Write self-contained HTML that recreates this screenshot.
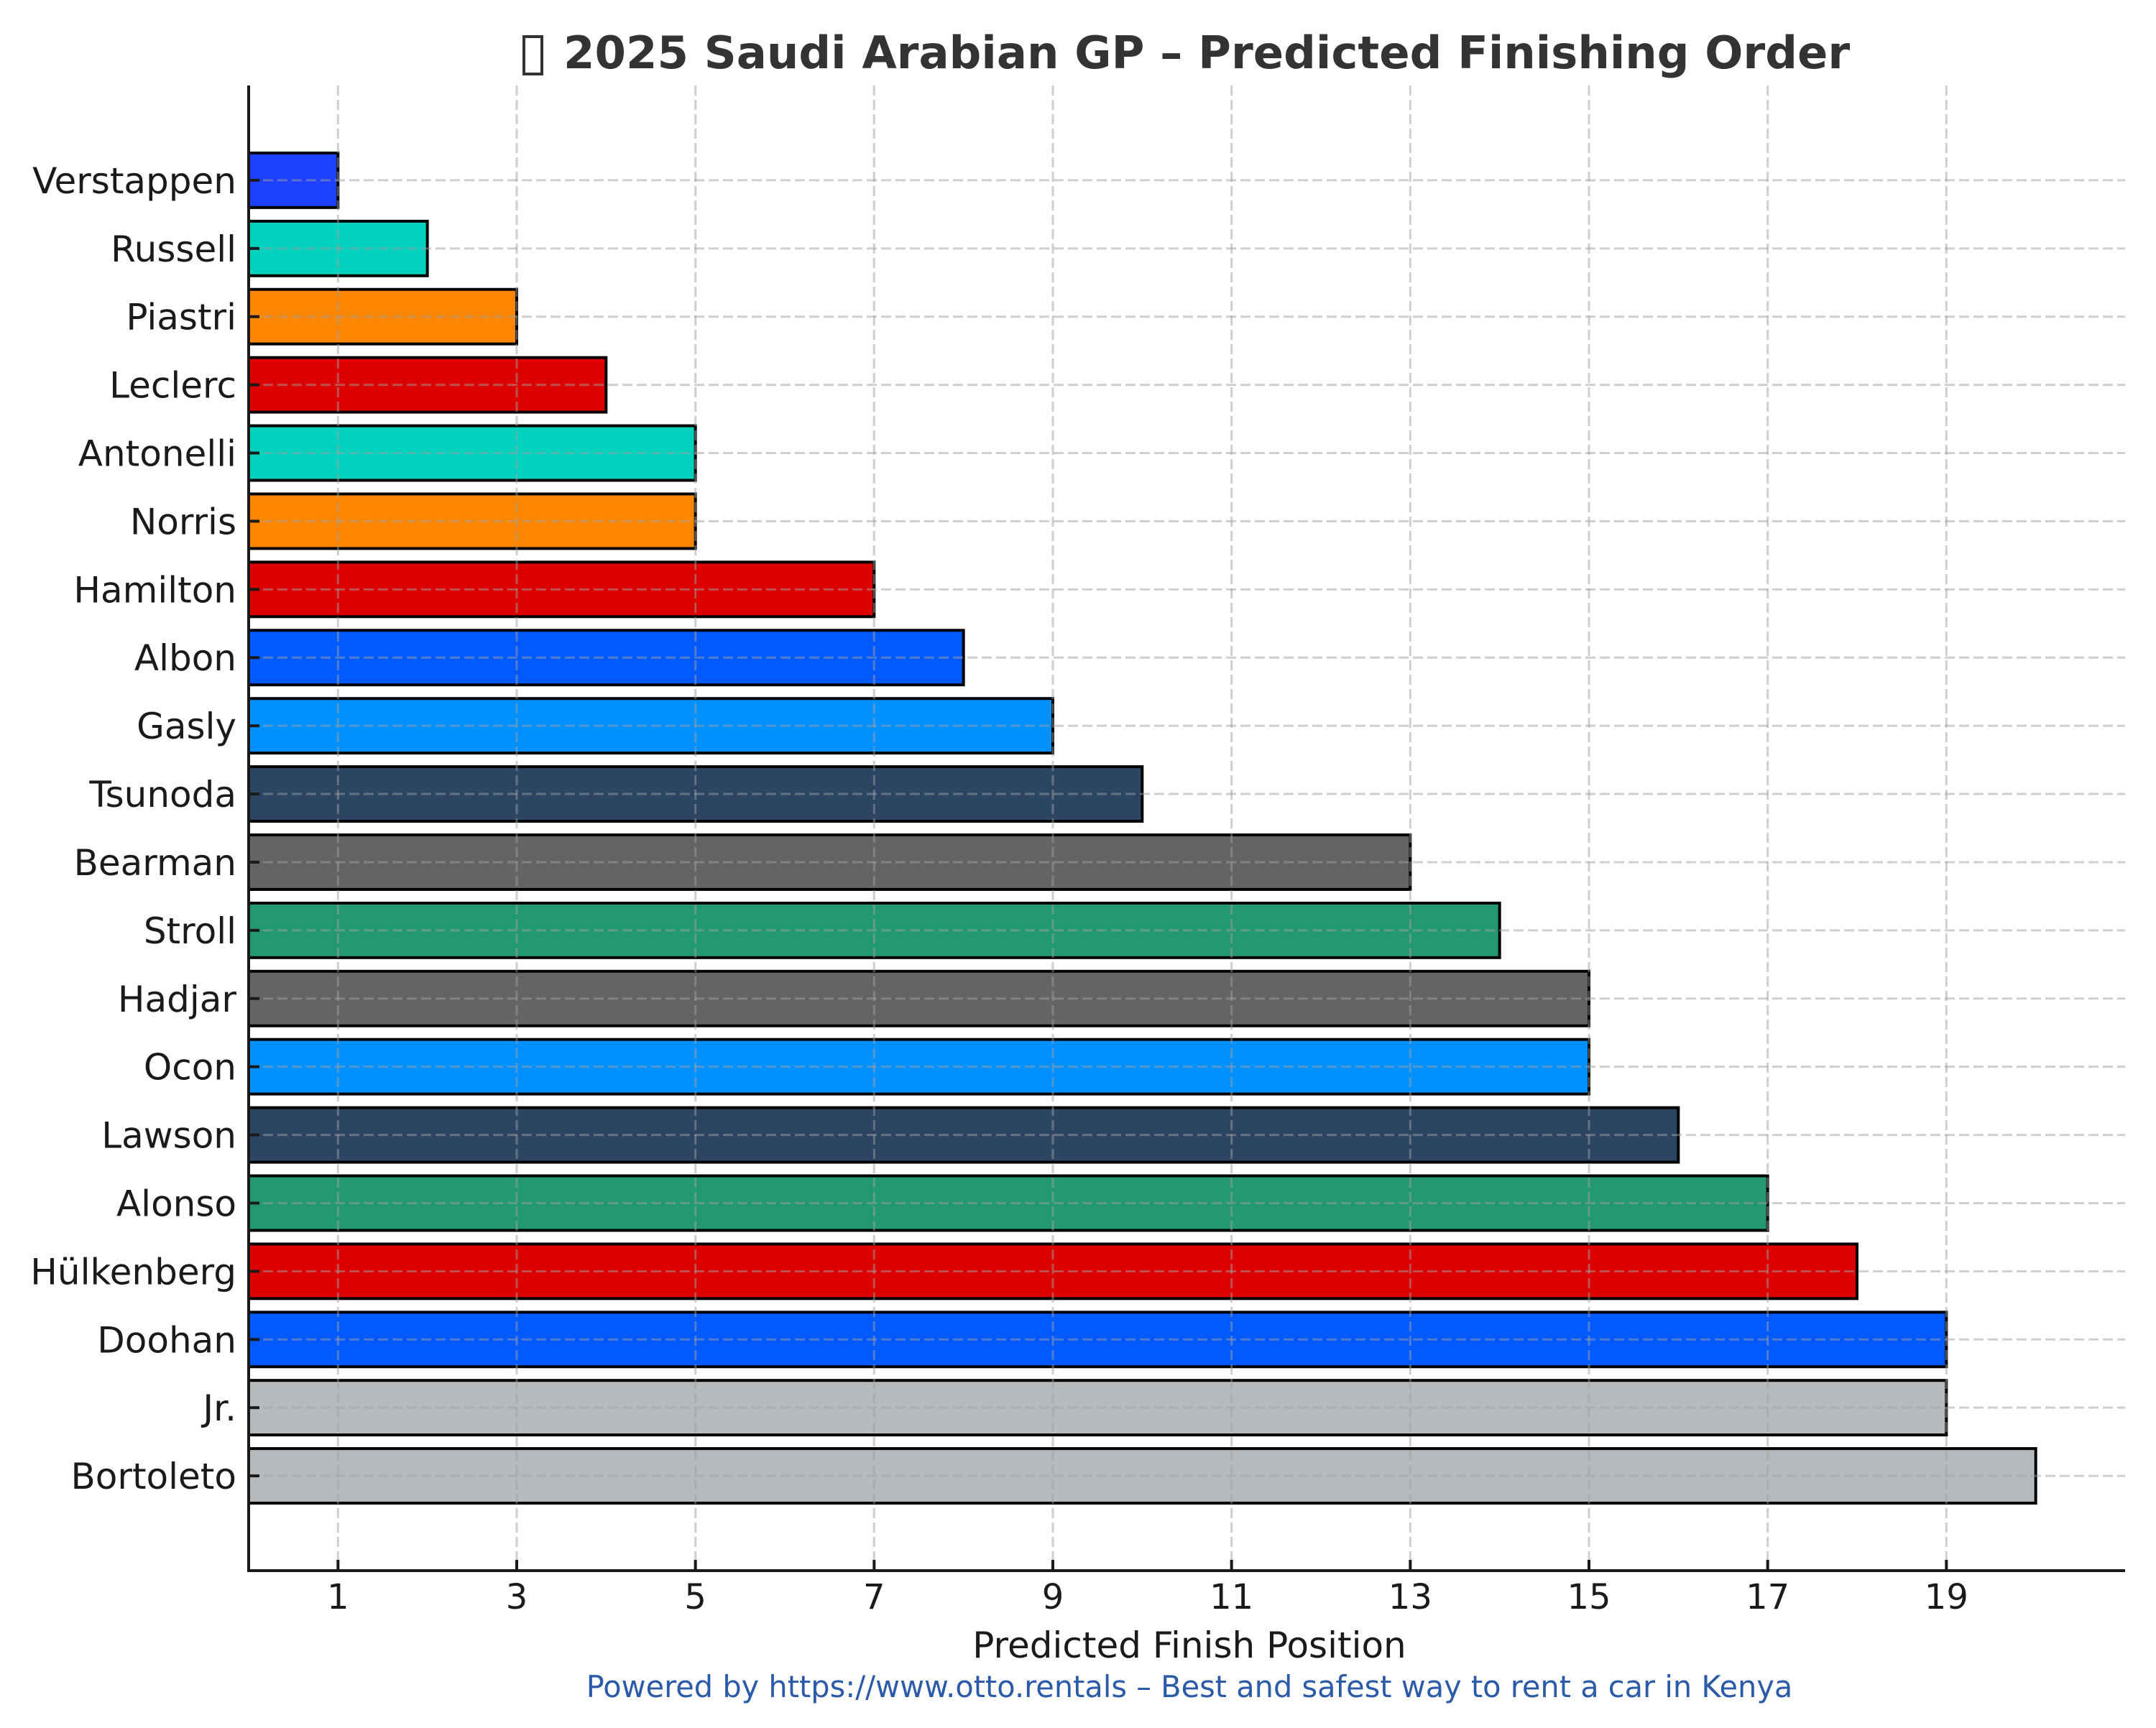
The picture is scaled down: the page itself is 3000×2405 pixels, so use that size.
<!DOCTYPE html>
<html><head><meta charset="utf-8"><style>
html,body{margin:0;padding:0;background:#fff;}
svg text{font-family:"DejaVu Sans","Liberation Sans",sans-serif;}
</style></head><body>
<svg id="chart" width="3000" height="2400" viewBox="0 0 3000 2400" xmlns="http://www.w3.org/2000/svg">
<rect x="0" y="0" width="3000" height="2400" fill="#fff"/>
<rect x="729" y="51" width="25" height="52" fill="none" stroke="#333" stroke-width="4"/>
<text x="784" y="95" font-size="62.5" font-weight="bold" fill="#333">2025 Saudi Arabian GP – Predicted Finishing Order</text>
<g id="bars"></g>
<g id="grid"></g>
<g id="axes"></g>
<text x="1655" y="2307" font-size="50" text-anchor="middle" fill="#1a1a1a">Predicted Finish Position</text>
<text x="1655" y="2362" font-size="41.5" text-anchor="middle" fill="#2b5aa8">Powered by https://www.otto.rentals – Best and safest way to rent a car in Kenya</text>
</svg>
<script>
const drivers = ["Verstappen","Russell","Piastri","Leclerc","Antonelli","Norris","Hamilton","Albon","Gasly","Tsunoda","Bearman","Stroll","Hadjar","Ocon","Lawson","Alonso","Hülkenberg","Doohan","Jr.","Bortoleto"];
const positions = [1,2,3,4,5,5,7,8,9,10,13,14,15,15,16,17,18,19,19,20];
const colors = ["#1E41FF","#00D2BE","#FF8700","#DC0000","#00D2BE","#FF8700","#DC0000","#005AFF","#0090FF","#2B4562","#646464","#229971","#646464","#0090FF","#2B4562","#229971","#DC0000","#005AFF","#B6BABD","#B6BABD"];
const xTicks = [1,3,5,7,9,11,13,15,17,19];

const NS = "http://www.w3.org/2000/svg";
const L = 346, R = 2957, T = 119, B = 2186;
const xMin = 0, xMax = 21;
const yMin = -1.39, yMax = 20.39;
function xs(v){ return L + (v - xMin) / (xMax - xMin) * (R - L); }
function ys(i){ return T + (i - yMin) / (yMax - yMin) * (B - T); }
const step = ys(1) - ys(0);
function mk(tag, attrs, parent){
  const e = document.createElementNS(NS, tag);
  for (const k in attrs) e.setAttribute(k, attrs[k]);
  parent.appendChild(e);
  return e;
}
const grid = document.getElementById("grid");
const bars = document.getElementById("bars");
const axes = document.getElementById("axes");

drivers.forEach((d, i) => {
  const h = step * 0.8;
  const r = mk("rect", {x: xs(0), y: ys(i) - h / 2, width: xs(positions[i]) - xs(0), height: h, fill: colors[i], stroke: "#000", "stroke-width": 4}, bars);
  
  
});
xTicks.forEach(t => {
  const g = mk("line", {x1: xs(t), x2: xs(t), y1: T, y2: B, stroke: "#a0a0a0", "stroke-opacity": 0.5, "stroke-width": 3, "stroke-dasharray": "14 6"}, grid);
  
  
});
drivers.forEach((d, i) => {
  const g = mk("line", {x1: L, x2: R, y1: ys(i), y2: ys(i), stroke: "#a0a0a0", "stroke-opacity": 0.5, "stroke-width": 3, "stroke-dasharray": "14 6"}, grid);
  
  
});
drivers.forEach((d, i) => {
  const tk = mk("line", {x1: L, x2: L + 15, y1: ys(i), y2: ys(i), stroke: "#1a1a1a", "stroke-width": 4}, axes);
  
  
  const lb = mk("text", {x: L - 17, y: ys(i) + 18, "font-size": 50, "text-anchor": "end", fill: "#1a1a1a"}, axes);
  lb.textContent = d;
  
  
});
xTicks.forEach(t => {
  const tk = mk("line", {x1: xs(t), x2: xs(t), y1: B, y2: B - 15, stroke: "#1a1a1a", "stroke-width": 4}, axes);
  
  
  const lb = mk("text", {x: xs(t), y: B + 53, "font-size": 48, "text-anchor": "middle", fill: "#1a1a1a"}, axes);
  lb.textContent = t;
  
  
});
const sl = mk("line", {x1: L, x2: L, y1: T, y2: B + 2, stroke: "#1a1a1a", "stroke-width": 4}, axes);


const sb = mk("line", {x1: L - 2, x2: R, y1: B, y2: B, stroke: "#1a1a1a", "stroke-width": 4}, axes);


</script>
</body></html>
